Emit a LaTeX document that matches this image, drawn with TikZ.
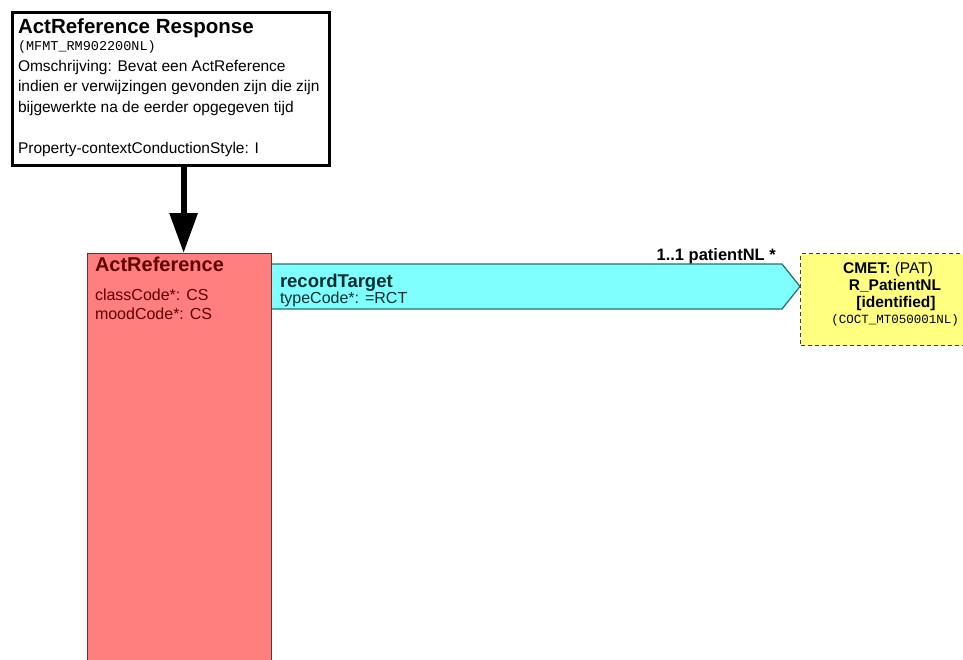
\documentclass[tikz,border=0pt]{standalone}
\usepackage{fontspec}
\setmainfont{Liberation Sans}
\newfontfamily\monof{Liberation Mono}
\usetikzlibrary{arrows.meta,calc}
\definecolor{actfill}{RGB}{255,127,127}
\definecolor{actline}{RGB}{110,45,45}
\definecolor{acttext}{RGB}{95,0,0}
\definecolor{assocfill}{RGB}{128,255,255}
\definecolor{assocline}{RGB}{40,110,110}
\definecolor{assoctext}{RGB}{0,45,45}
\definecolor{cmetfill}{RGB}{255,255,128}
\tikzset{
  txt/.style={anchor=base west, inner sep=0pt, outer sep=0pt},
  ctxt/.style={anchor=base, inner sep=0pt, outer sep=0pt},
  respbox/.style={draw=black, line width=3pt, fill=white, inner sep=0pt},
  actbox/.style={draw=actline, line width=1.2pt, fill=actfill, inner sep=0pt},
  cmetbox/.style={draw=black!75, line width=1pt, dash pattern=on 4pt off 3pt, fill=cmetfill, inner sep=0pt},
  assoc/.style={draw=assocline, line width=1.2pt, fill=assocfill, line join=miter},
  bigarrow/.style={line width=6pt, -{Triangle[length=40pt,width=27pt]}},
  fbody/.style={font=\fontsize{15.5}{18}\selectfont},
  fbodyw/.style={font=\fontsize{16}{18}\selectfont},
  fmono/.style={font=\monof\fontsize{12.5}{14}\selectfont},
}
\begin{document}
\begin{tikzpicture}[x=1pt,y=-1pt]
\useasboundingbox (0,0) rectangle (963,659);
% response box
\node[respbox, anchor=north west, minimum width=317pt, minimum height=153pt] (resp) at (11,11) {};
\node[txt, font=\bfseries\fontsize{20.5}{22}\selectfont] (rtitle) at (18,33) {ActReference Response};
\node[txt, font=\monof\fontsize{13.5}{14}\selectfont] (rid) at (18,50) {(MFMT\_RM902200NL)};
\node[txt, fbody] (r1) at (18,71) {Omschrijving: Bevat een ActReference};
\node[txt, fbody] (r2) at (18,91.5) {indien er verwijzingen gevonden zijn die zijn};
\node[txt, fbody] (r3) at (18,112) {bijgewerkte na de eerder opgegeven tijd};
\node[txt, fbody] (r4) at (18,153.5) {Property-contextConductionStyle: I};
% act box
\node[actbox, anchor=north west, minimum width=184pt, minimum height=430pt] (act) at (87,253) {};
\node[txt, text=acttext, font=\bfseries\fontsize{20}{22}\selectfont] (atitle) at (95,271) {ActReference};
\node[txt, text=acttext, fbodyw] (a1) at (95,300) {classCode*: CS};
\node[txt, text=acttext, fbodyw] (a2) at (95,319) {moodCode*: CS};
% big arrow
\coordinate (atip) at ($(act.north)+(4,0)$);
\draw[bigarrow] (resp.south -| atip) -- (atip);
% cmet box
\node[cmetbox, anchor=north west, minimum width=163pt, minimum height=92pt] (cmet) at (800,253) {};
\node[ctxt, font=\fontsize{15.5}{18}\selectfont] (c1) at (888,273) {\textbf{CMET:} (PAT)};
\node[ctxt, font=\bfseries\fontsize{15.5}{18}\selectfont] (c2) at (895,290) {R\_PatientNL};
\node[ctxt, font=\bfseries\fontsize{15.5}{18}\selectfont] (c3) at (896,307) {[identified]};
\node[ctxt, fmono] (c4) at (895,323) {(COCT\_MT050001NL)};
% association arrow
\coordinate (s1) at ($(act.north east)+(0,11)$);
\coordinate (s2) at ($(act.north east)+(0,56)$);
\coordinate (tip) at ($(cmet.north west)+(0,33.5)$);
\draw[assoc] (s1) -- ($(tip)+(-18,-22.5)$) -- (tip) -- ($(tip)+(-18,22.5)$) -- (s2);
\node[txt, text=assoctext, font=\bfseries\fontsize{18.5}{20}\selectfont] (rt) at (280,287) {recordTarget};
\node[txt, text=assoctext, fbodyw] (tc) at (280,303.5) {typeCode*: =RCT};
\node[anchor=base east, inner sep=0pt, font=\bfseries\fontsize{16.5}{18}\selectfont] (card) at (776,260) {1..1 patientNL *};
\end{tikzpicture}
\end{document}
